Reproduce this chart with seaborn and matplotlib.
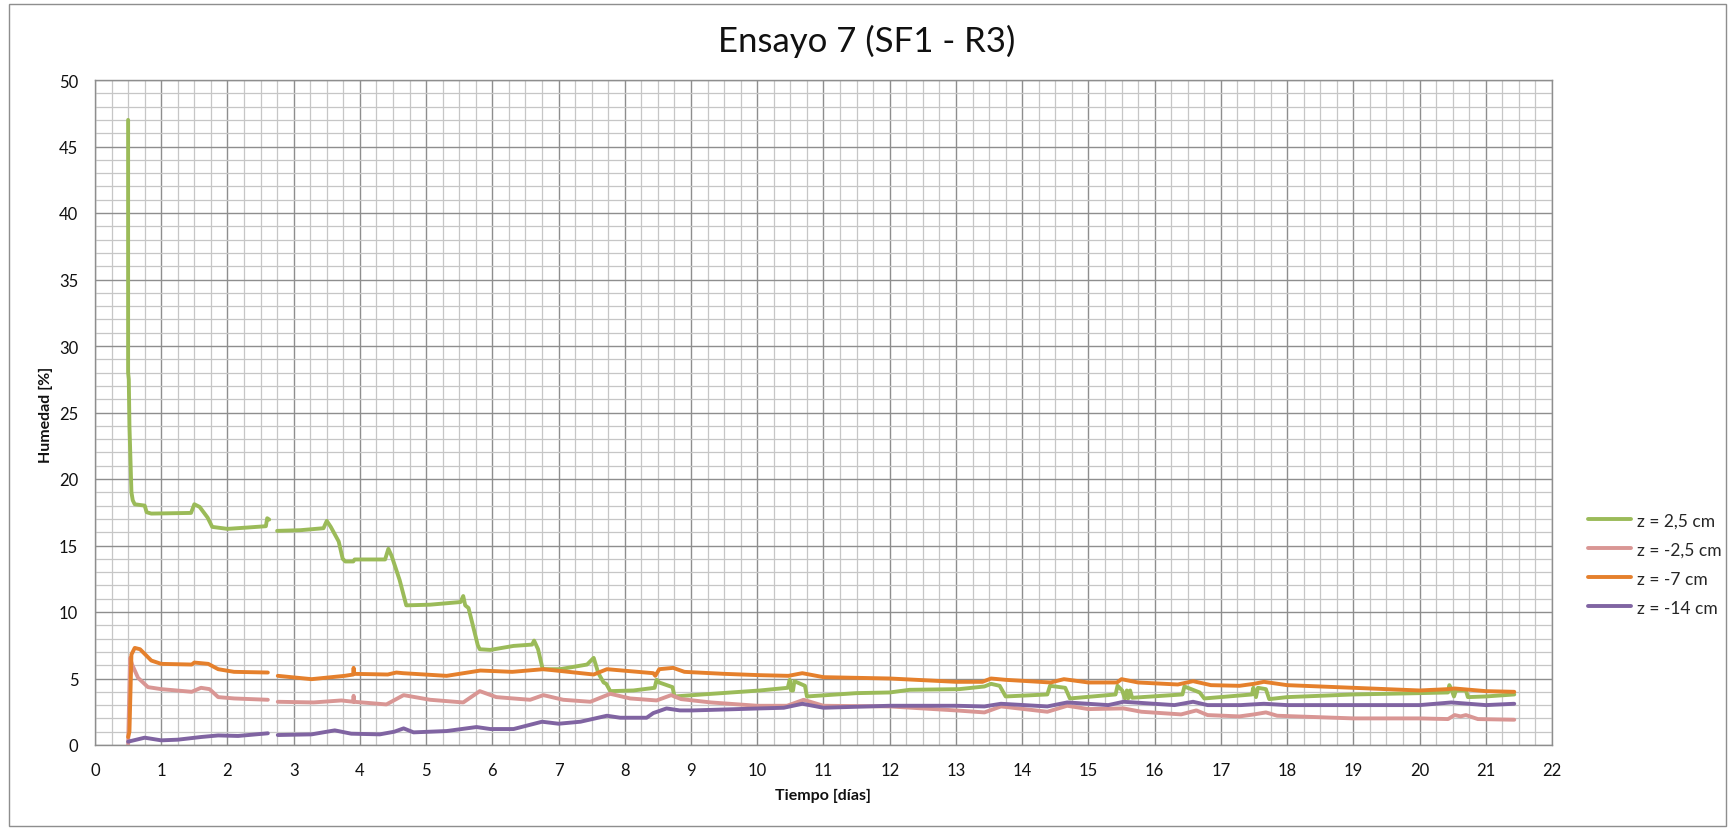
import numpy as np
import pandas as pd
import matplotlib
matplotlib.use("Agg")
import matplotlib.pyplot as plt
from matplotlib.ticker import MultipleLocator
from matplotlib.patches import Rectangle
from matplotlib.lines import Line2D
import seaborn as sns

# --- Datos: tiempo [días] y humedad [%] por sensor (NaN = hueco en el registro) ---
nan = np.nan

dias_z25 = [0.50, 0.50, 0.51, 0.52, 0.55, 0.57, 0.60, 0.75, 0.78, 0.85, 1.45, 1.50, 1.58, 1.70,
            1.77, 2.00, 2.30, 2.58, 2.60, 2.63, nan,
            2.75, 3.10, 3.45, 3.50, 3.56, 3.68, 3.74, 3.78, 3.90, 3.92, 4.38, 4.43, 4.48, 4.60,
            4.70, 5.06, 5.52, 5.56, 5.59, 5.64, 5.78, 5.81, 5.97, 6.32, 6.60, 6.63, 6.69, 6.76,
            7.02, 7.43, 7.53, 7.60, 7.68, 7.72, 7.78, 8.13, 8.45, 8.48, 8.52, 8.72, 8.75, 9.03,
            10.04, 10.46, 10.49, 10.51, 10.54, 10.56, 10.72, 10.75, 11.50, 12.00, 12.30, 13.05,
            13.43, 13.53, 13.66, 13.70, 13.75, 14.38, 14.42, 14.65, 14.72, 15.41, 15.44, 15.51,
            15.55, 15.58, 15.60, 15.63, 15.66, 16.42, 16.45, 16.68, 16.75, 17.47, 17.49, 17.53,
            17.56, 17.68, 17.73, 18.00, 19.00, 20.00, 20.43, 20.45, 20.49, 20.52, 20.55, 20.70,
            20.73, 21.00, 21.43]
hum_z25 = [47.0, 28.0, 27.5, 24.0, 19.0, 18.4, 18.1, 18.0, 17.5, 17.4, 17.45, 18.1, 17.9, 17.1,
           16.4, 16.25, 16.35, 16.45, 17.05, 16.95, nan,
           16.1, 16.15, 16.3, 16.85, 16.4, 15.3, 14.0, 13.8, 13.8, 13.95, 13.95, 14.75, 14.2, 12.4,
           10.5, 10.55, 10.75, 11.2, 10.5, 10.3, 7.5, 7.2, 7.15, 7.45, 7.55, 7.85, 7.2, 5.7,
           5.7, 6.05, 6.55, 5.4, 4.7, 4.6, 4.05, 4.1, 4.3, 4.9, 4.7, 4.35, 3.65, 3.75,
           4.1, 4.3, 4.9, 4.1, 4.1, 4.8, 4.45, 3.65, 3.9, 3.95, 4.15, 4.2,
           4.4, 4.6, 4.45, 4.1, 3.65, 3.8, 4.45, 4.3, 3.5, 3.8, 4.45, 4.1,
           3.5, 4.1, 3.5, 4.1, 3.55, 3.8, 4.4, 3.95, 3.5, 3.8, 4.3, 3.6,
           4.3, 4.2, 3.45, 3.6, 3.8, 3.9, 3.95, 4.5, 4.05, 3.65, 4.1, 4.1,
           3.6, 3.65, 3.8]

dias_zm25 = [0.50, 0.53, 0.56, 0.65, 0.80, 1.00, 1.46, 1.60, 1.73, 1.86, 2.10, 2.61, nan,
             2.76, 3.30, 3.72, 3.90, 3.905, 3.91, 4.40, 4.66, 5.06, 5.56, 5.81, 6.06, 6.57, 6.77,
             7.07, 7.48, 7.78, 8.08, 8.48, 8.70, 8.85, 9.30, 10.00, 10.45, 10.70, 11.00, 12.00,
             13.00, 13.43, 13.68, 14.38, 14.68, 15.00, 15.53, 15.80, 16.40, 16.63, 16.80, 17.28,
             17.50, 17.68, 17.85, 19.00, 20.00, 20.43, 20.53, 20.62, 20.70, 20.88, 21.43]
hum_zm25 = [0.05, 6.55, 6.05, 5.05, 4.35, 4.2, 4.0, 4.3, 4.2, 3.6, 3.5, 3.4, nan,
            3.25, 3.2, 3.35, 3.25, 3.7, 3.25, 3.05, 3.75, 3.4, 3.2, 4.05, 3.6, 3.4, 3.75,
            3.4, 3.25, 3.85, 3.5, 3.35, 3.75, 3.45, 3.2, 2.95, 2.95, 3.4, 2.95, 2.9,
            2.6, 2.45, 2.9, 2.5, 2.95, 2.7, 2.75, 2.5, 2.3, 2.6, 2.25, 2.15,
            2.3, 2.45, 2.2, 2.0, 2.0, 1.95, 2.25, 2.15, 2.25, 1.95, 1.9]

dias_zm7 = [0.50, 0.52, 0.55, 0.60, 0.68, 0.85, 1.00, 1.46, 1.50, 1.71, 1.86, 2.10, 2.61, nan,
            2.76, 3.27, 3.77, 3.90, 3.905, 3.91, 4.42, 4.55, 4.65, 5.31, 5.82, 6.30, 6.77, 7.53,
            7.73, 8.43, 8.46, 8.52, 8.73, 8.90, 9.50, 10.04, 10.47, 10.68, 11.00, 12.00, 13.00,
            13.40, 13.53, 13.75, 14.43, 14.63, 15.00, 15.43, 15.50, 15.75, 16.35, 16.58, 16.85,
            17.28, 17.50, 17.65, 18.00, 19.00, 20.00, 20.43, 20.53, 21.00, 21.43]
hum_zm7 = [0.6, 1.0, 6.8, 7.3, 7.2, 6.35, 6.1, 6.05, 6.2, 6.1, 5.7, 5.5, 5.45, nan,
           5.2, 4.95, 5.2, 5.3, 5.8, 5.35, 5.3, 5.45, 5.4, 5.2, 5.6, 5.5, 5.7, 5.3,
           5.7, 5.4, 5.2, 5.7, 5.8, 5.5, 5.35, 5.25, 5.2, 5.4, 5.1, 5.0, 4.75,
           4.75, 5.0, 4.9, 4.7, 4.95, 4.7, 4.7, 4.95, 4.7, 4.55, 4.8, 4.5,
           4.45, 4.6, 4.75, 4.5, 4.3, 4.1, 4.2, 4.25, 4.05, 4.0]

dias_zm14 = [0.50, 0.75, 1.00, 1.25, 1.60, 1.86, 2.16, 2.61, nan,
             2.76, 3.27, 3.62, 3.87, 4.30, 4.52, 4.66, 4.81, 5.31, 5.76, 5.97, 6.32, 6.75, 7.00,
             7.33, 7.73, 7.93, 8.33, 8.43, 8.63, 8.83, 9.03, 10.04, 10.40, 10.68, 11.00, 12.00,
             13.00, 13.43, 13.68, 14.38, 14.68, 15.30, 15.53, 16.30, 16.58, 16.80, 17.30, 17.65,
             18.00, 20.00, 20.48, 21.00, 21.43]
hum_zm14 = [0.25, 0.55, 0.35, 0.4, 0.6, 0.72, 0.68, 0.88, nan,
            0.75, 0.8, 1.1, 0.85, 0.8, 1.0, 1.25, 0.95, 1.05, 1.35, 1.2, 1.2, 1.75, 1.6,
            1.75, 2.2, 2.05, 2.05, 2.4, 2.75, 2.6, 2.6, 2.75, 2.8, 3.1, 2.8, 2.95,
            2.95, 2.9, 3.1, 2.9, 3.2, 3.0, 3.25, 3.0, 3.25, 3.0, 3.0, 3.1,
            3.0, 3.0, 3.2, 3.0, 3.1]

series = ["z = 2,5 cm", "z = -2,5 cm", "z = -7 cm", "z = -14 cm"]
colores = ["#9BBB59", "#D99694", "#E5802C", "#8064A2"]

# --- Tabla larga; cada hueco del registro abre un tramo nuevo ---
frames = []
for nombre, xs, ys in zip(series,
                          [dias_z25, dias_zm25, dias_zm7, dias_zm14],
                          [hum_z25, hum_zm25, hum_zm7, hum_zm14]):
    xs = np.asarray(xs, dtype=float)
    ys = np.asarray(ys, dtype=float)
    tramo = np.cumsum(np.isnan(xs))
    df = pd.DataFrame({"dias": xs, "humedad": ys, "serie": nombre,
                       "tramo": [f"{nombre}-{t}" for t in tramo]})
    frames.append(df.dropna())
datos = pd.concat(frames, ignore_index=True)

sns.set_style("white")
plt.rcParams["font.family"] = ["Lato", "DejaVu Sans"]

fig = plt.figure(figsize=(17.33, 8.29), dpi=100)
ax = fig.add_axes([95 / 1733, 1 - 746 / 829, (1552 - 95) / 1733, (746 - 81) / 829])

sns.lineplot(data=datos, x="dias", y="humedad", hue="serie", units="tramo",
             estimator=None, sort=False, palette=dict(zip(series, colores)),
             hue_order=series, linewidth=2.8, legend=False, ax=ax)

ax.set_xlim(0, 22)
ax.set_ylim(0, 50)
ax.xaxis.set_major_locator(MultipleLocator(1))
ax.xaxis.set_minor_locator(MultipleLocator(0.25))
ax.yaxis.set_major_locator(MultipleLocator(5))
ax.yaxis.set_minor_locator(MultipleLocator(1))
ax.grid(which="major", color="#8E8E8E", linewidth=1.0)
ax.grid(which="minor", color="#C6C6C6", linewidth=0.9)
ax.set_axisbelow(True)
for s in ax.spines.values():
    s.set_color("#8E8E8E")
    s.set_linewidth(1.0)
ax.tick_params(axis="x", which="major", length=0, pad=12, labelsize=12, colors="#111111")
ax.tick_params(axis="y", which="major", length=0, pad=12, labelsize=12, colors="#111111")
ax.tick_params(which="minor", length=0)
ax.set_xlabel("")
ax.set_ylabel("")

fig.text(0.5, 1 - 41 / 829, "Ensayo 7 (SF1 - R3)", ha="center", va="center",
         fontsize=25, color="#111111")
fig.text(46 / 1733, 1 - 415 / 829, "Humedad [%]", rotation=90, ha="center", va="center",
         fontsize=11.5, fontweight="bold", color="#111111")
fig.text(823 / 1733, 1 - 796 / 829, "Tiempo [días]", ha="center", va="center",
         fontsize=11.5, fontweight="bold", color="#111111")

handles = [Line2D([0], [0], color=c, lw=2.8) for c in colores]
fig.legend(handles, series, loc="center left", bbox_to_anchor=(1588 / 1733, 1 - 565 / 829),
           frameon=False, fontsize=12.5, handlelength=2.5, handletextpad=0.3,
           labelspacing=0.75, borderpad=0, borderaxespad=0)

fig.add_artist(Rectangle((9 / 1733, 2 / 829), (1726 - 9) / 1733, (824 - 2) / 829,
                         transform=fig.transFigure, fill=False, edgecolor="#8E8E8E", lw=1.0))

fig.savefig("out.png", dpi=100)
